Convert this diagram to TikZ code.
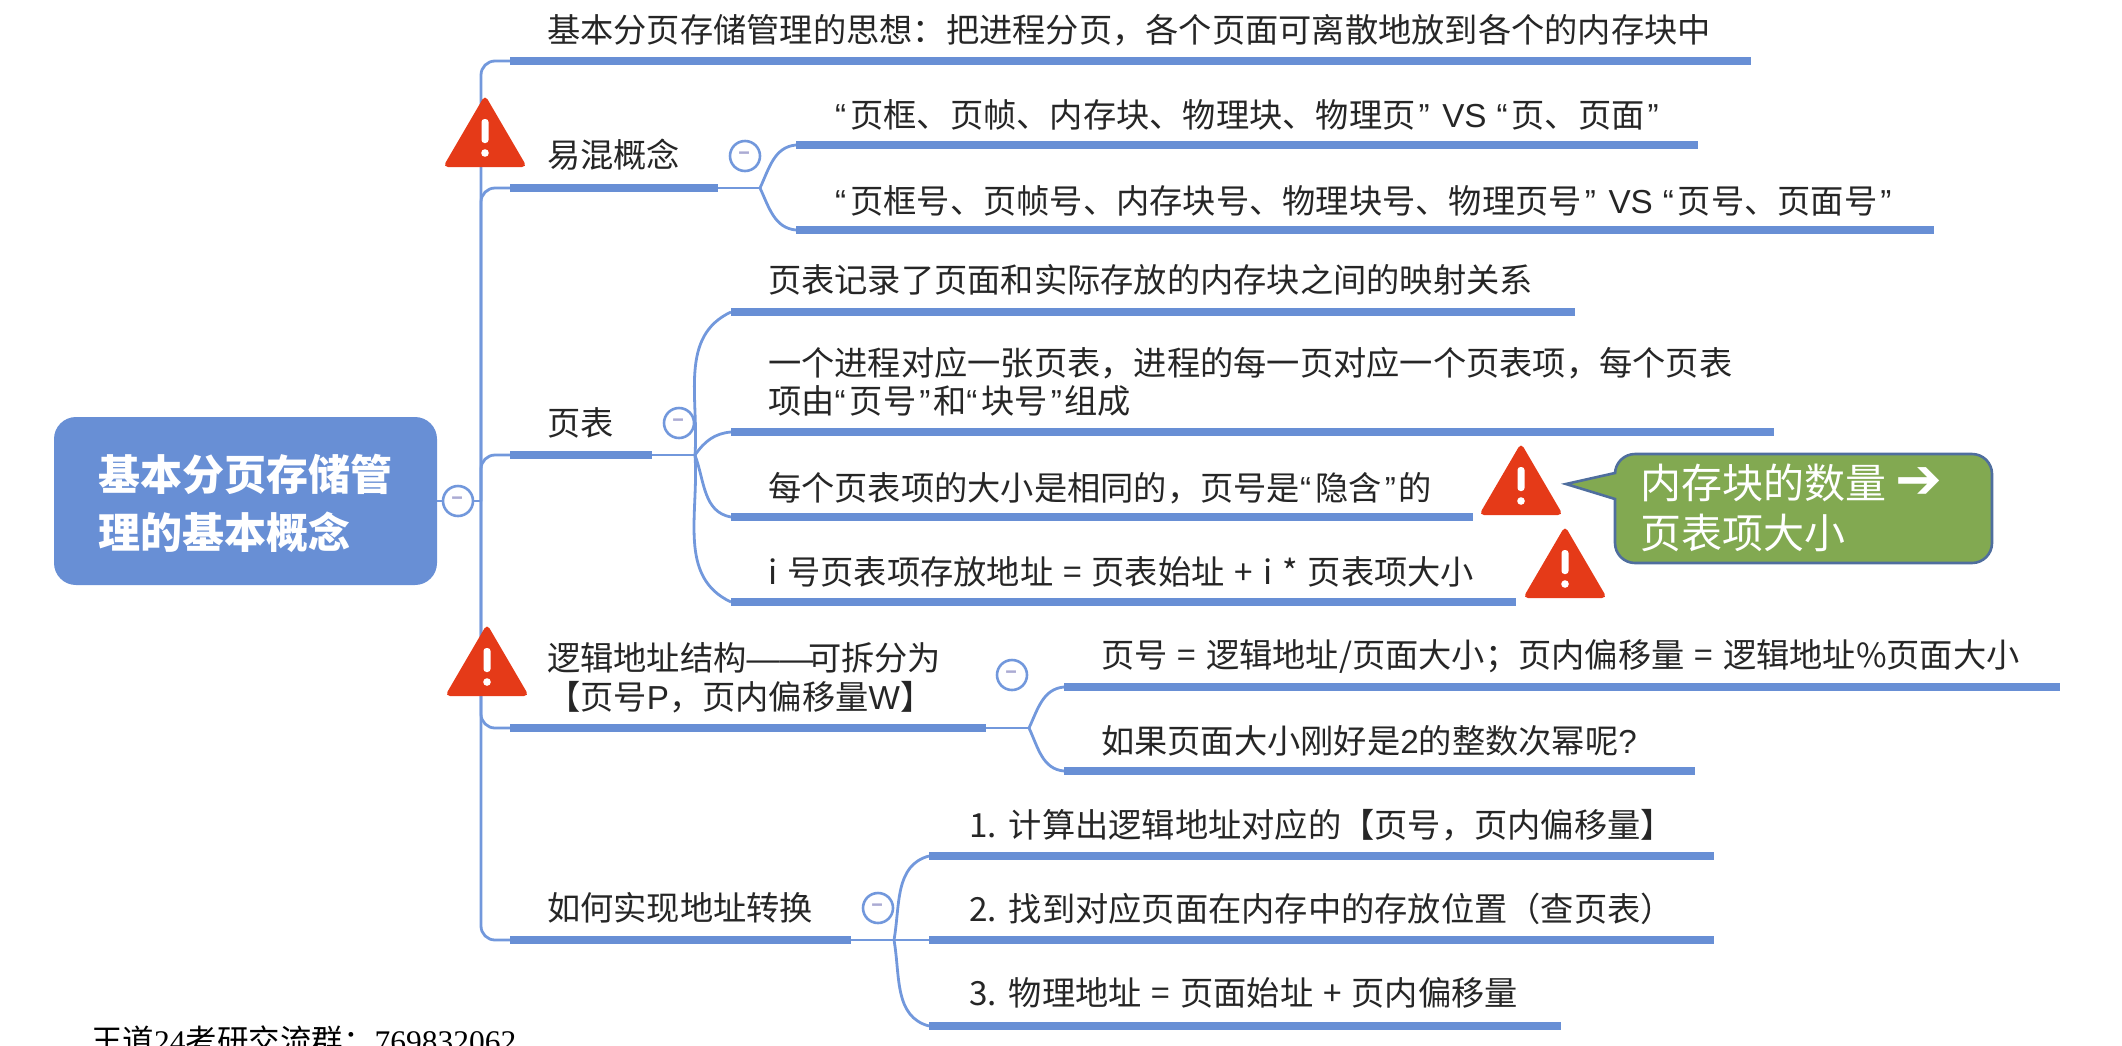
\documentclass[tikz,border=0pt]{standalone}
\usepackage{fontspec}
\setmainfont{Noto Sans CJK SC}
\newfontfamily\arrowfont{DejaVu Sans}
\newfontfamily\latinserif{Liberation Serif}
\newfontfamily\latinsans{Liberation Sans}
\newcommand{\topicfont}{\fontsize{33.25}{38.5}\selectfont\setlength{\spaceskip}{.30em}}
\newcommand{\qo}{{\latinsans “}\kern4pt}
\newcommand{\qc}{\kern3pt{\latinsans ”}\kern2.7pt}
\definecolor{mapblue}{HTML}{688FD5}
\definecolor{twigblue}{HTML}{7298DC}
\definecolor{warnred}{HTML}{E53A18}
\definecolor{notegreen}{HTML}{82A951}
\definecolor{noteedge}{HTML}{4F6E9E}
\definecolor{foldmark}{HTML}{ABABD3}
\tikzset{warning/.pic={
   \fill[warnred, rounded corners=5pt] (0,-37) -- (42,35) -- (-42,35) -- cycle;
   \fill[white, rounded corners=3pt] (-3.5,-13) rectangle (3.5,11);
   \fill[white] (0,21) circle (3.8);
}}

\begin{document}
\begin{tikzpicture}[x=1pt, y=-1pt,
    topic/.style ={anchor=west, inner sep=0pt, align=left, font=\topicfont, text=black!85},
    bar/.style ={draw=mapblue, line width=8.5pt},
    twig/.style ={draw=twigblue, line width=2.8pt},
    fork/.style ={twig, rounded corners=14pt},
    fold/.style ={circle, draw=twigblue, line width=2.6pt, fill=white, minimum size=30pt, inner sep=0pt, text=foldmark, font=\fontsize{22}{22}\bfseries\selectfont}]
   \useasboundingbox (0,0) rectangle (2122,1045);

   \node[fill=mapblue, rounded corners=22pt, minimum width=383pt, minimum height=168pt] (root) at (245.5,501) {};
   \node[anchor=west, inner sep=0pt, align=left, text=white, font=\fontsize{42}{58}\bfseries\selectfont] (title) at (98,503) {基本分页存储管\\理的基本概念};
   \coordinate (T) at (481,501);
   \draw[twig] (root) to (T);
   \node[fold] (foldT) at (458,501) {--};

   % first level
   \node[topic] (A) at (547,30) {基本分页存储管理的思想：把进程分页，各个页面可离散地放到各个的内存块中};
   \node[topic] (B) at (547,155) {易混概念};
   \node[topic] (C) at (547,423) {页表};
   \node[topic] (D) at (547,678) {逻辑地址结构{\latinsans ——}\kern-5pt 可拆分为\\【页号{\latinsans P}，页内偏移量{\latinsans W}】};
   \node[topic] (E) at (547,908) {如何实现地址转换};

   \coordinate (A1) at (510,61);   \coordinate (A2) at (1751,61);
   \coordinate (B1) at (510,188);  \coordinate (B2) at (718,188);  \coordinate (Bh) at (760,188);
   \coordinate (C1) at (510,455);  \coordinate (C2) at (652,455);  \coordinate (Ch) at (695,455);
   \coordinate (D1) at (510,728);  \coordinate (D2) at (986,728);  \coordinate (Dh) at (1029,728);
   \coordinate (E1) at (510,940);  \coordinate (E2) at (851,940);  \coordinate (Eh) at (894,940);

   \draw[fork] (T) |- (A1);
   \draw[fork] (T) |- (B1);
   \draw[fork] (T) |- (C1);
   \draw[fork] (T) |- (D1);
   \draw[fork] (T) |- (E1);
   \draw[twig] (B2) to (Bh);
   \draw[twig] (C2) to (Ch);
   \draw[twig] (D2) to (Dh);
   \draw[twig] (E2) to (Eh);
   \draw[bar] (A1) to (A2);
   \draw[bar] (B1) to (B2);
   \draw[bar] (C1) to (C2);
   \draw[bar] (D1) to (D2);
   \draw[bar] (E1) to (E2);

   \node[fold] (foldB) at (745,156) {--};
   \node[fold] (foldC) at (679,423) {--};
   \node[fold] (foldD) at (1012,675) {--};
   \node[fold] (foldE) at (878,908) {--};

   % second level
   \node[topic] (Ba) at (835,115) {\qo 页框、页帧、内存块、物理块、物理页\qc{} {\latinsans VS} \qo 页、页面\qc};
   \node[topic] (Bb) at (835,201) {\qo 页框号、页帧号、内存块号、物理块号、物理页号\qc{} {\latinsans VS} \qo 页号、页面号\qc};
   \node[topic] (Ca) at (768,280) {页表记录了页面和实际存放的内存块之间的映射关系};
   \node[topic] (Cb) at (768,382) {一个进程对应一张页表，进程的每一页对应一个页表项，每个页表\\项由\qo 页号\qc 和\qo 块号\qc 组成};
   \node[topic] (Cc) at (768,488) {每个页表项的大小是相同的，页号是\qo 隐含\qc 的};
   \node[topic] (Cd) at (768,572) {i 号页表项存放地址 = 页表始址 + i * 页表项大小};
   \node[topic] (Da) at (1101,656) {页号 = 逻辑地址/页面大小；页内偏移量 = 逻辑地址\%页面大小};
   \node[topic] (Db) at (1101,741) {如果页面大小刚好是{\latinsans 2}的整数次幂呢{\latinsans ?}};
   \node[topic] (Ea) at (969,825) {1.\kern12pt 计算出逻辑地址对应的【页号，页内偏移量】};
   \node[topic] (Eb) at (969,909) {2.\kern12pt 找到对应页面在内存中的存放位置（查页表）};
   \node[topic] (Ec) at (969,993) {3.\kern12pt 物理地址 = 页面始址 + 页内偏移量};

   \coordinate (Ba1) at (796,145);  \coordinate (Ba2) at (1698,145);
   \coordinate (Bb1) at (796,230);  \coordinate (Bb2) at (1934,230);
   \coordinate (Ca1) at (731,312);  \coordinate (Ca2) at (1575,312);
   \coordinate (Cb1) at (731,432);  \coordinate (Cb2) at (1774,432);
   \coordinate (Cc1) at (731,517);  \coordinate (Cc2) at (1473,517);
   \coordinate (Cd1) at (731,602);  \coordinate (Cd2) at (1516,602);
   \coordinate (Da1) at (1064,687); \coordinate (Da2) at (2060,687);
   \coordinate (Db1) at (1064,771); \coordinate (Db2) at (1695,771);
   \coordinate (Ea1) at (929,856);  \coordinate (Ea2) at (1714,856);
   \coordinate (Eb1) at (929,940);  \coordinate (Eb2) at (1714,940);
   \coordinate (Ec1) at (929,1026); \coordinate (Ec2) at (1561,1026);

   \draw[twig] (Bh) to[out=65, in=185] (Ba1);
   \draw[twig] (Bh) to[out=-65, in=175] (Bb1);
   \draw[twig] (Ch) to[out=86, in=205] (Ca1);
   \draw[twig] (Ch) to[out=55, in=185] (Cb1);
   \draw[twig] (Ch) to[out=-70, in=170] (Cc1);
   \draw[twig] (Ch) to[out=-86, in=155] (Cd1);
   \draw[twig] (Dh) to[out=65, in=185] (Da1);
   \draw[twig] (Dh) to[out=-65, in=175] (Db1);
   \draw[twig] (Eh) to[out=80, in=195] (Ea1);
   \draw[twig] (Eh) to (Eb1);
   \draw[twig] (Eh) to[out=-80, in=165] (Ec1);

   \draw[bar] (Ba1) to (Ba2);
   \draw[bar] (Bb1) to (Bb2);
   \draw[bar] (Ca1) to (Ca2);
   \draw[bar] (Cb1) to (Cb2);
   \draw[bar] (Cc1) to (Cc2);
   \draw[bar] (Cd1) to (Cd2);
   \draw[bar] (Da1) to (Da2);
   \draw[bar] (Db1) to (Db2);
   \draw[bar] (Ea1) to (Ea2);
   \draw[bar] (Eb1) to (Eb2);
   \draw[bar] (Ec1) to (Ec2);

   % markers
   \pic at (485,132) {warning};
   \pic at (487,661) {warning};
   \pic at (1521,480) {warning};
   \pic at (1565,563) {warning};

   % green note
   \draw[fill=notegreen, draw=noteedge, line width=2.6pt] (1615,473) -- (1566,484) -- (1615,499) [rounded corners=20pt] -- (1615,563) -- (1992,563) -- (1992,454) -- (1615,454) [sharp corners] -- cycle;
   \node[anchor=west, inner sep=0pt, align=left, text=white, font=\fontsize{41}{50}\selectfont] (note) at (1640,508) {内存块的数量 {\arrowfont\fontsize{56}{50}\selectfont ➔}\\页表项大小};

   \node[anchor=west, inner sep=0pt, text=black, font=\fontsize{31.5}{31.5}\selectfont] (group) at (91,1040) {王道{\latinserif 24}考研交流群：{\latinserif 769832062}};
\end{tikzpicture}
\end{document}
